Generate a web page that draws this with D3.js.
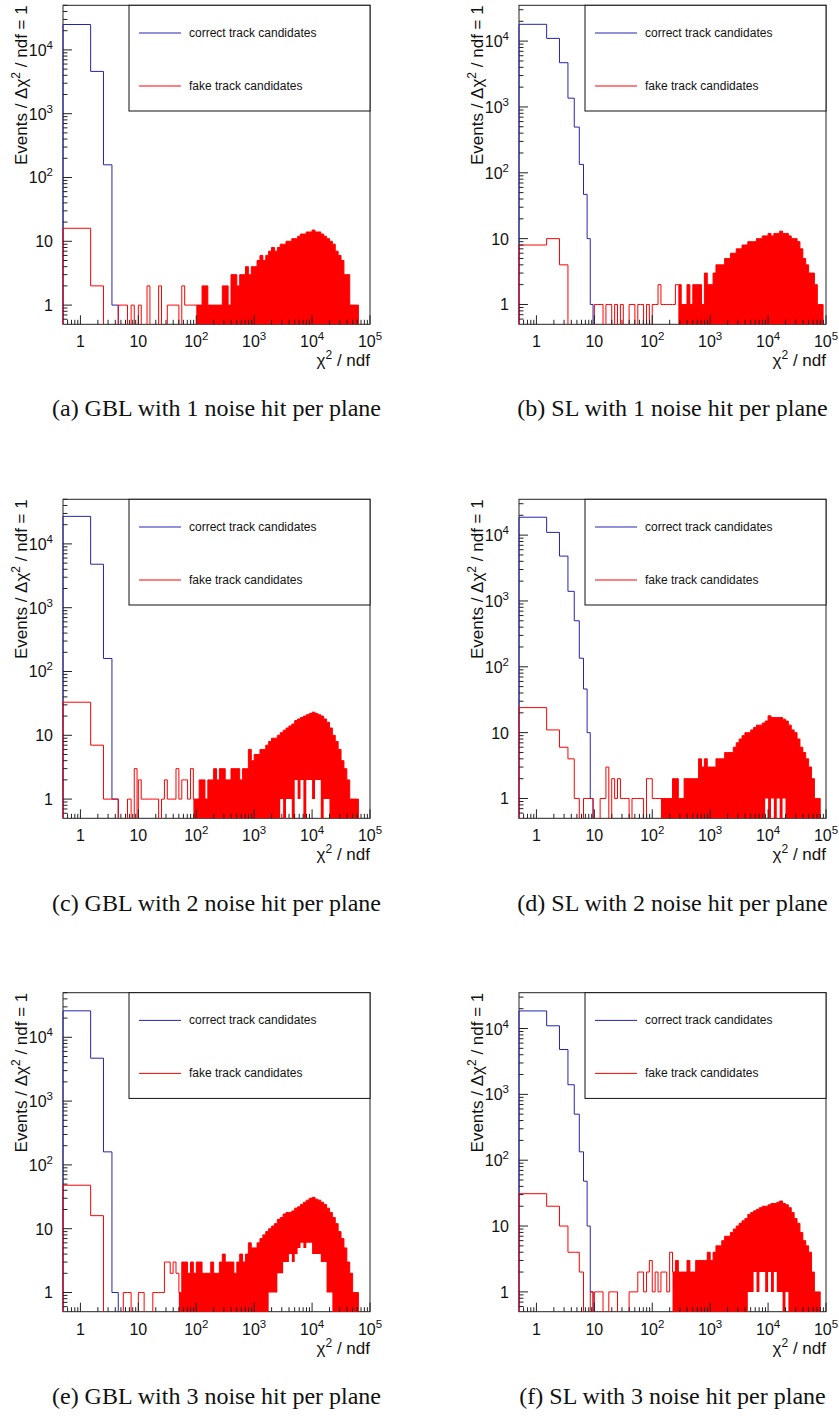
<!DOCTYPE html>
<html>
<head>
<meta charset="utf-8">
<script src="https://cdn.jsdelivr.net/npm/d3@7"></script>
<style>
  body { margin: 0; background: #fff; }
  svg { display: block; }
  text { font-family: "Liberation Sans", Arial, sans-serif; fill: #111; }
  .caption { font-family: "Liberation Serif", "Times New Roman", serif; }
</style>
</head>
<body>
<svg id="fig" width="839" height="1417"></svg>
<script>
// ---- data ----
// low bins: width 1, centred on chi2/ndf = 1..9
const lowBins = [1, 2, 3, 4, 5, 6, 7, 8, 9];
// tail slots: start at chi2/ndf = 10, 0.05 decades wide, up to 1e5
const tailLogStart = 1.0;
const tailLogStep = 0.05;

const xTickLabels = [1, 10, 100, 1000, 10000, 100000];
const yTickLabels = [1, 10, 100, 1000, 10000];
const legendLabels = ['correct track candidates', 'fake track candidates'];
const captions = [
  '(a) GBL with 1 noise hit per plane', '(b) SL with 1 noise hit per plane',
  '(c) GBL with 2 noise hit per plane', '(d) SL with 2 noise hit per plane',
  '(e) GBL with 3 noise hit per plane', '(f) SL with 3 noise hit per plane'
];

// correct track candidates (bins 1..9)
const correctGbl1 = [25000, 4600, 158, 1, 0, 0, 0, 0, 0];
const correctSl1  = [18000, 11000, 4700, 1360, 495, 134, 47, 10, 1];
const correctGbl2 = [27000, 4800, 160, 1, 0, 0, 0, 0, 0];
const correctSl2  = [18700, 11000, 4800, 1400, 500, 135, 46, 10, 1];
const correctGbl3 = [26000, 4700, 160, 1, 0, 0, 0, 0, 0];
const correctSl3  = [18500, 11000, 4800, 1400, 500, 134, 48, 10, 1];

// fake track candidates, bins 1..9
const fakeGbl1Low = [16, 2, 0, 0, 1, 1, 0, 1, 0];
const fakeSl1Low  = [8, 10, 4, 0, 0, 0, 0, 0, 0];
const fakeGbl2Low = [33, 7, 1, 1, 0, 0, 1, 0, 3];
const fakeSl2Low  = [24, 11, 6, 4, 1, 0, 1, 1, 1];
const fakeGbl3Low = [48, 16, 0, 0, 0, 1, 1, 0, 0];
const fakeSl3Low  = [31, 20, 10, 4, 4, 2, 0, 0, 1];

// fake track candidates, tail (highest count per slot)
const fakeGbl1Tail = [
  1,0,0,2,0,0,0,2,0,0, 1,1,1,1,0,2,1,1,1,1,
  1,1,2,2,1,1,1,1,1,2, 2,1,3,3,2,3,3,4,3,4,
  4,5,6,5,6,7,8,7,8,9, 9,10,10,11,11,12,13,13,14,14,
  15,14,14,13,12,11,10,9,7,6, 5,3,3,1,1,1,0,0,0,0];
const fakeSl1Tail = [
  1,1,1,0,1,1,0,1,0,1, 0,0,1,1,0,1,1,0,1,0,
  1,1,2,1,1,1,1,1,2,2, 1,1,2,1,2,2,2,1,3,2,
  2,3,4,4,4,5,5,6,6,7, 7,8,8,9,9,9,10,10,11,11,
  12,11,12,12,13,12,12,11,10,10, 9,7,5,4,3,3,2,1,1,0];
const fakeGbl2Tail = [
  2,1,1,1,1,1,1,0,1,2, 1,1,1,3,1,2,2,1,3,1,
  1,2,2,1,2,2,3,2,3,3, 2,2,3,3,3,2,3,3,6,4,
  5,5,6,6,7,8,9,9,10,11, 12,13,14,15,17,18,19,20,21,22,
  23,22,21,20,18,16,13,10,8,6, 4,3,2,1,1,1,0,0,0,0];
const fakeSl2Tail = [
  0,0,1,1,3,0,2,1,2,1, 1,1,0,1,1,1,1,0,2,2,
  1,1,1,1,1,1,1,2,2,1, 1,2,2,2,2,2,4,3,4,3,
  3,3,4,4,4,5,5,5,6,7, 8,9,10,10,11,12,13,13,14,15,
  18,17,17,17,17,16,15,13,11,10, 8,6,5,4,3,2,1,1,0,0];
const fakeGbl3Tail = [
  1,1,0,0,0,1,1,1,1,3, 3,2,3,2,1,3,3,2,3,2,
  3,3,2,2,2,3,2,2,3,4, 3,3,3,2,3,4,3,4,6,5,
  5,6,7,8,9,10,11,12,14,15, 17,18,18,19,21,22,24,26,28,30,
  31,29,28,26,24,21,18,15,12,9, 7,5,3,2,1,1,0,0,0,0];
const fakeSl3Tail = [
  1,1,1,0,0,1,1,1,0,0, 0,0,1,1,1,2,2,1,2,3,
  1,2,1,2,2,1,4,2,3,2, 2,2,3,2,2,3,3,3,3,4,
  3,4,5,5,6,7,7,8,9,10, 11,12,13,15,16,17,18,19,20,20,
  21,22,22,23,24,22,21,19,16,13, 11,8,6,5,4,2,1,1,0,0];

// white gaps under the dense part: [log10 of slot start, lowest count in slot]
const fakeGbl1Holes = [];
const fakeSl1Holes = [];
const fakeGbl2Holes = [[3.45,1],[3.55,1],[3.60,1],[3.70,2],[3.75,1],[3.80,2],[3.90,2],
                       [3.95,2],[4.00,1],[4.05,2],[4.10,2],[4.20,1],[4.25,1]];
const fakeSl2Holes = [[3.95,1],[4.05,1],[4.15,1],[4.25,1]];
const fakeGbl3Holes = [[3.25,1],[3.30,1],[3.35,1],[3.40,2],[3.45,2],[3.50,3],[3.55,3],[3.60,4],
                       [3.65,3],[3.70,4],[3.75,5],[3.80,6],[3.85,5],[3.90,6],[3.95,6],[4.00,4],
                       [4.05,4],[4.10,4],[4.15,3],[4.20,3],[4.25,1],[4.30,1]];
const fakeSl3Holes = [[3.65,1],[3.70,1],[3.75,2],[3.80,1],[3.85,2],[3.90,2],[3.95,1],[4.00,2],
                      [4.05,1],[4.10,2],[4.15,1],[4.20,1],[4.30,1]];

// chi2/ndf where the fake tail turns into a solid band
const denseFrom = [100, 280, 80, 140, 50, 200];
const yMaxGbl = 50000, yMaxSl = 35000;

// ---- layout ----
const W = 307, H = 319;
const colX = [63, 519];
const rowY = [5.3, 499.3, 992.7];
const captionY = [416, 911, 1404];
const blue = '#2424b0', red = '#ff0000', axisColor = '#222';

const panels = [
  {correct: correctGbl1, low: fakeGbl1Low, tail: fakeGbl1Tail, holes: fakeGbl1Holes, ymax: yMaxGbl},
  {correct: correctSl1,  low: fakeSl1Low,  tail: fakeSl1Tail,  holes: fakeSl1Holes,  ymax: yMaxSl},
  {correct: correctGbl2, low: fakeGbl2Low, tail: fakeGbl2Tail, holes: fakeGbl2Holes, ymax: yMaxGbl},
  {correct: correctSl2,  low: fakeSl2Low,  tail: fakeSl2Tail,  holes: fakeSl2Holes,  ymax: yMaxSl},
  {correct: correctGbl3, low: fakeGbl3Low, tail: fakeGbl3Tail, holes: fakeGbl3Holes, ymax: yMaxGbl},
  {correct: correctSl3,  low: fakeSl3Low,  tail: fakeSl3Tail,  holes: fakeSl3Holes,  ymax: yMaxSl}
];

const svg = d3.select('#fig');
const defs = svg.append('defs');

function addPower(textSel, v, supSize, supDy){
  if(v < 100){
    textSel.text(v);
    return;
  }
  textSel.append('tspan').text('10');
  textSel.append('tspan').attr('dy', supDy).style('font-size', supSize).text(Math.round(Math.log10(v)));
}

panels.forEach((p, idx) => {
  const col = idx % 2, row = Math.floor(idx / 2);
  const g = svg.append('g').attr('transform', `translate(${colX[col]},${rowY[row]})`);

  const x = d3.scaleLog().domain([0.5, 1e5]).range([0, W]);
  const y = d3.scaleLog().domain([0.5, p.ymax]).range([H, 0]);
  const yv = v => v > 0 ? y(v) : H + 3;

  defs.append('clipPath').attr('id', 'clip' + idx)
    .append('rect').attr('x', -1).attr('y', 0).attr('width', W + 1).attr('height', H);

  // frame
  g.append('rect').attr('width', W).attr('height', H)
    .attr('fill', 'none').attr('stroke', axisColor).attr('stroke-width', 1);

  const plot = g.append('g').attr('clip-path', `url(#clip${idx})`);

  // segments {lo, hi, v}
  const lowSegs = lowBins.map(c => ({lo: c - 0.5, hi: c + 0.5}));
  const correctSegs = lowSegs.map((s, i) => ({lo: s.lo, hi: s.hi, v: p.correct[i]}));
  const tailSegs = p.tail.map((v, i) => {
    const l = tailLogStart + tailLogStep * i;
    const hole = p.holes.find(h => Math.abs(h[0] - l) < 1e-6);
    return {lo: Math.pow(10, l), hi: Math.pow(10, l + tailLogStep), v: v, min: hole ? hole[1] : 0};
  });
  const fakeSegs = lowSegs.map((s, i) => ({lo: s.lo, hi: s.hi, v: p.low[i]}))
    .concat([{lo: 9.5, hi: 10, v: 0}])
    .concat(tailSegs);

  const stepPath = segs => {
    let d = `M${x(segs[0].lo)},${H + 3}`;
    segs.forEach(s => { d += `V${yv(s.v)}H${x(s.hi)}`; });
    return d + `V${H + 3}`;
  };

  // correct candidates
  plot.append('path').attr('d', stepPath(correctSegs))
    .attr('fill', 'none').attr('stroke', blue).attr('stroke-width', 1);

  // dense part of the fake tail: one band between lowest and highest count
  const dense = tailSegs.filter(s => s.lo >= denseFrom[idx] * 0.999);
  const bottomOf = s => (s.min > 0 ? y(s.min) : H + 3);
  let band = `M${x(dense[0].lo)},${bottomOf(dense[0])}`;
  dense.forEach(s => { band += `V${yv(s.v)}H${x(s.hi)}`; });
  for(let i = dense.length - 1; i >= 0; i--){
    const s = dense[i];
    band += `V${bottomOf(s)}H${x(s.lo)}`;
  }
  band += 'Z';
  plot.append('path').attr('d', band).attr('fill', red).attr('stroke', 'none');

  // fake candidates outline
  plot.append('path').attr('d', stepPath(fakeSegs))
    .attr('fill', 'none').attr('stroke', red).attr('stroke-width', 1);

  // y ticks
  const yTicks = [];
  for(let n = -1; n <= 4; n++){
    for(let k = 1; k <= 9; k++){
      const v = k * Math.pow(10, n);
      if(v > 0.5 && v <= p.ymax) yTicks.push({v: v, major: k === 1});
    }
  }
  g.selectAll('line.yt').data(yTicks).enter().append('line')
    .attr('x1', 0).attr('x2', t => t.major ? 9 : 4.5)
    .attr('y1', t => y(t.v)).attr('y2', t => y(t.v))
    .attr('stroke', axisColor).attr('stroke-width', 1);

  // x ticks
  const xTicks = [];
  for(let n = -1; n <= 5; n++){
    for(let k = 1; k <= 9; k++){
      const v = k * Math.pow(10, n);
      if(v > 0.5 && v <= 1e5 * 1.0001) xTicks.push({v: v, major: k === 1});
    }
  }
  g.selectAll('line.xt').data(xTicks).enter().append('line')
    .attr('y1', H).attr('y2', t => H - (t.major ? 9 : 4.5))
    .attr('x1', t => x(t.v)).attr('x2', t => x(t.v))
    .attr('stroke', axisColor).attr('stroke-width', 1);

  // tick labels
  yTickLabels.forEach(v => {
    const t = g.append('text').attr('x', -10).attr('y', y(v) + 6)
      .attr('text-anchor', 'end').style('font-size', '16px');
    addPower(t, v, '11.5px', -7);
  });
  xTickLabels.forEach(v => {
    const t = g.append('text').attr('x', x(v)).attr('y', H + 23)
      .attr('text-anchor', 'middle').style('font-size', '16px');
    addPower(t, v, '11.5px', -7);
  });

  // axis titles
  const yt = g.append('text').attr('transform', 'translate(-36,0) rotate(-90)')
    .attr('text-anchor', 'end').style('font-size', '17px');
  yt.append('tspan').text('Events / \u0394\u03c7');
  yt.append('tspan').attr('dy', -7).style('font-size', '12px').text('2');
  yt.append('tspan').attr('dy', 7).text(' / ndf = 1');

  const xt = g.append('text').attr('x', W).attr('y', H + 42)
    .attr('text-anchor', 'end').style('font-size', '17px');
  xt.append('tspan').text('\u03c7');
  xt.append('tspan').attr('dy', -7).style('font-size', '12px').text('2');
  xt.append('tspan').attr('dy', 7).text(' / ndf');

  // legend
  const lg = g.append('g').attr('transform', 'translate(66,0)');
  lg.append('rect').attr('width', W - 66).attr('height', 105.7)
    .attr('fill', '#fff').attr('stroke', '#111').attr('stroke-width', 1);
  [blue, red].forEach((c, i) => {
    const ly = 27.7 + 53 * i;
    lg.append('line').attr('x1', 10).attr('x2', 52).attr('y1', ly).attr('y2', ly)
      .attr('stroke', c).attr('stroke-width', 1);
    lg.append('text').attr('x', 60).attr('y', ly + 4).style('font-size', '12px')
      .text(legendLabels[i]);
  });

  // caption
  svg.append('text').attr('class', 'caption')
    .attr('x', colX[col] + W / 2).attr('y', captionY[row])
    .attr('text-anchor', 'middle').style('font-size', '24px')
    .text(captions[idx]);
});
</script>
</body>
</html>
